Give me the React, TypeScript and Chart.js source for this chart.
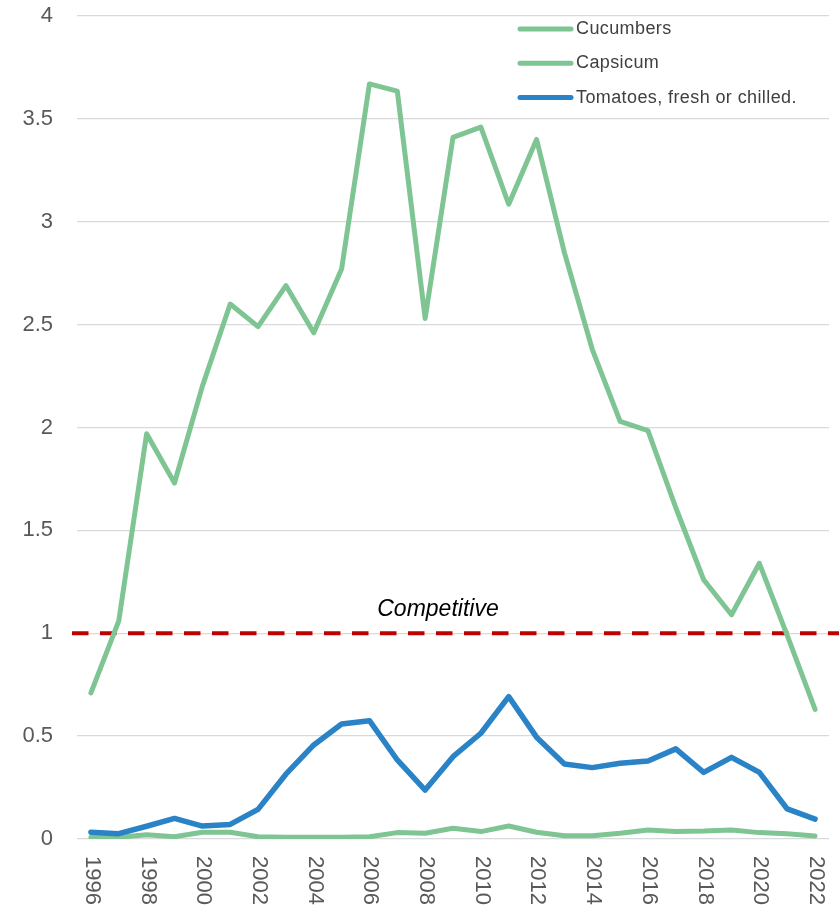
import React, { useEffect, useRef } from "react";
import { Chart, registerables } from "chart.js";

Chart.register(...registerables);

const years = [
  "1996", "1997", "1998", "1999", "2000", "2001", "2002", "2003", "2004",
  "2005", "2006", "2007", "2008", "2009", "2010", "2011", "2012", "2013",
  "2014", "2015", "2016", "2017", "2018", "2019", "2020", "2021", "2022",
];

const cucumbers = [
  0.71, 1.06, 1.97, 1.73, 2.2, 2.6, 2.49, 2.69, 2.46, 2.77, 3.67, 3.635, 2.53,
  3.41, 3.46, 3.085, 3.4, 2.85, 2.38, 2.03, 1.985, 1.61, 1.26, 1.09, 1.34, 0.99,
  0.63,
];

const capsicum = [
  0.008, 0.008, 0.021, 0.011, 0.033, 0.033, 0.011, 0.009, 0.009, 0.009, 0.011,
  0.031, 0.028, 0.052, 0.036, 0.063, 0.033, 0.016, 0.016, 0.028, 0.044, 0.037,
  0.039, 0.044, 0.031, 0.026, 0.015,
];

const tomatoes = [
  0.033, 0.026, 0.062, 0.1, 0.063, 0.071, 0.144, 0.315, 0.457, 0.559, 0.575,
  0.384, 0.238, 0.4, 0.514, 0.692, 0.495, 0.365, 0.347, 0.368, 0.379, 0.438,
  0.324, 0.397, 0.324, 0.146, 0.097,
];

const seriesNames = ["Cucumbers", "Capsicum", "Tomatoes, fresh or chilled."];
const seriesColors = ["#7FC594", "#7FC594", "#2A83C6"];

const threshold = 1;
const thresholdLabel = "Competitive";

const yMin = 0;
const yMax = 4;
const yStep = 0.5;

const FONT = "'Liberation Sans', Arial, sans-serif";

const overlayPlugin = {
  id: "overlay",
  beforeDatasetsDraw(chart: any) {
    const { ctx, chartArea, scales } = chart;
    const y = scales.y.getPixelForValue(threshold);
    ctx.save();
    ctx.strokeStyle = "#C00000";
    ctx.lineWidth = 4;
    ctx.setLineDash([16.5, 11.5]);
    ctx.beginPath();
    ctx.moveTo(chartArea.left - 5, y);
    ctx.lineTo(chart.width, y);
    ctx.stroke();
    ctx.restore();
  },
  afterDraw(chart: any) {
    const { ctx, chartArea, scales } = chart;
    ctx.save();
    // threshold label
    const yT = scales.y.getPixelForValue(threshold);
    ctx.fillStyle = "#000000";
    ctx.font = `italic 23px ${FONT}`;
    ctx.textAlign = "center";
    ctx.textBaseline = "middle";
    ctx.fillText(thresholdLabel, chartArea.left + chartArea.width * 0.48, yT - 24);

    // x labels (rotated clockwise)
    ctx.fillStyle = "#595959";
    ctx.font = `22px ${FONT}`;
    ctx.textAlign = "left";
    ctx.textBaseline = "middle";
    for (let i = 0; i < years.length; i += 2) {
      const x = scales.x.getPixelForValue(i);
      ctx.save();
      ctx.translate(x + 1, chartArea.bottom + 17);
      ctx.rotate(Math.PI / 2);
      ctx.fillText(years[i], 0, 0);
      ctx.restore();
    }

    // legend
    const lx0 = chartArea.right - 309;
    const lx1 = lx0 + 51;
    const rowY = [29, 63.3, 97.6];
    ctx.font = `18px ${FONT}`;
    ctx.fillStyle = "#404040";
    ctx.textAlign = "left";
    ctx.textBaseline = "middle";
    for (let i = 0; i < seriesNames.length; i++) {
      ctx.strokeStyle = seriesColors[i];
      ctx.lineWidth = 5;
      ctx.lineCap = "round";
      ctx.beginPath();
      ctx.moveTo(lx0, rowY[i]);
      ctx.lineTo(lx1, rowY[i]);
      ctx.stroke();
      (ctx as any).letterSpacing = "0.4px";
      ctx.fillText(seriesNames[i], lx1 + 5, rowY[i]);
      (ctx as any).letterSpacing = "0px";
    }
    ctx.restore();
  },
};

export default function App() {
  const ref = useRef<HTMLCanvasElement | null>(null);

  useEffect(() => {
    if (!ref.current) return;
    const mk = (data: number[], i: number, order: number, width: number) => ({
      label: seriesNames[i],
      data,
      borderColor: seriesColors[i],
      backgroundColor: seriesColors[i],
      borderWidth: width,
      pointRadius: 0,
      pointHoverRadius: 0,
      tension: 0,
      fill: false,
      borderJoinStyle: "round" as const,
      borderCapStyle: "round" as const,
      order,
    });
    const chart = new Chart(ref.current, {
      type: "line",
      data: {
        labels: years,
        datasets: [
          mk(cucumbers, 0, 2, 5),
          mk(capsicum, 1, 1, 5),
          mk(tomatoes, 2, 0, 5.5),
        ],
      },
      options: {
        responsive: false,
        animation: false,
        devicePixelRatio: 1,
        layout: { padding: { top: 16, right: 10, bottom: 76, left: 0 } },
        plugins: {
          legend: { display: false },
          tooltip: { enabled: false },
          title: { display: false },
        },
        scales: {
          x: {
            type: "category",
            display: false,
            offset: true,
            grid: { display: false },
          },
          y: {
            min: yMin,
            max: yMax,
            border: { display: false },
            grid: {
              color: "#D9D9D9",
              lineWidth: 1.3,
              drawTicks: false,
            },
            ticks: {
              stepSize: yStep,
              padding: 24,
              color: "#595959",
              font: { family: FONT, size: 22 },
              callback: (v: any) => String(Number(v)),
            },
            afterFit(scale: any) {
              scale.width = 77;
              scale.paddingTop = 12;
              scale.paddingBottom = 12;
            },
          },
        },
      },
      plugins: [overlayPlugin],
    });
    return () => chart.destroy();
  }, []);

  return (
    <div style={{ position: "absolute", left: 0, top: 0, width: 839, height: 915, background: "#ffffff" }}>
      <canvas ref={ref} width={839} height={915} style={{ display: "block" }} />
    </div>
  );
}
